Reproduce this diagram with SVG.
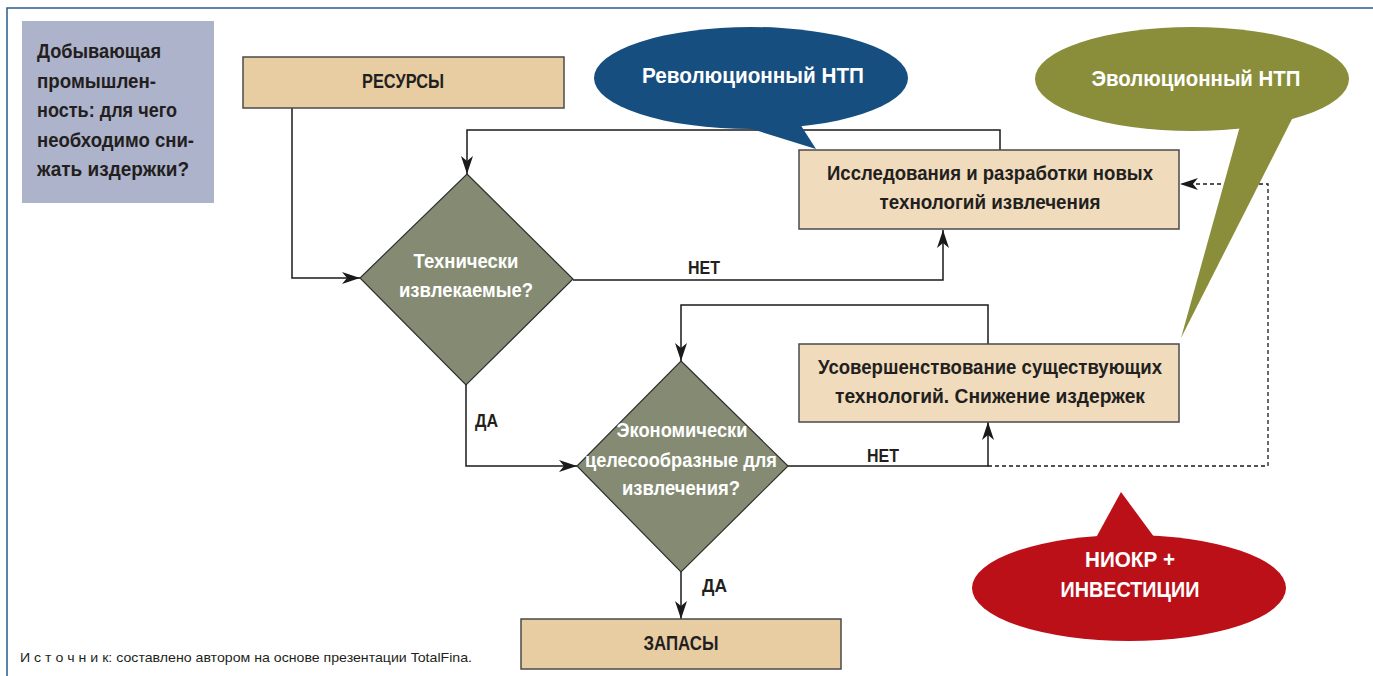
<svg xmlns="http://www.w3.org/2000/svg" width="1373" height="676" viewBox="0 0 1373 676">
<defs>
<marker id="ah" markerWidth="20" markerHeight="12" refX="18" refY="6" orient="auto" markerUnits="userSpaceOnUse">
<path d="M0,0 L18,6 L0,12 L5,6 z" fill="#1a1a1a"/>
</marker>
<style>
.t{font-family:"Liberation Sans Narrow","Liberation Sans","DejaVu Sans Condensed",sans-serif;font-weight:bold;}
.dk{fill:#231f20;}
.wh{fill:#ffffff;}
.box{stroke:#4a4a4a;stroke-width:1.5;}
.tan{fill:#e8cda3;}
.lt{fill:#f0dcbc;}
.dia{fill:#858b72;stroke:#2e2e2e;stroke-width:1.2;}
.ln{fill:none;stroke:#1a1a1a;stroke-width:1.5;marker-end:url(#ah);}
.dash{fill:none;stroke:#1a1a1a;stroke-width:1.3;stroke-dasharray:4 3;marker-end:url(#ah);}
</style>
</defs>
<rect x="0" y="0" width="1373" height="676" fill="#ffffff"/>
<path d="M7,676 V8 H1373" fill="none" stroke="#2a5b8f" stroke-width="1.5"/>

<g id="question">
<rect x="22" y="21" width="192" height="182" fill="#aeb3cc"/>
<text class="t dk" font-size="20"><tspan x="37" y="58" textLength="124" lengthAdjust="spacingAndGlyphs">Добывающая</tspan></text>
<text class="t dk" font-size="20"><tspan x="37" y="88" textLength="119" lengthAdjust="spacingAndGlyphs">промышлен-</tspan></text>
<text class="t dk" font-size="20"><tspan x="37" y="117" textLength="140" lengthAdjust="spacingAndGlyphs">ность: для чего</tspan></text>
<text class="t dk" font-size="20"><tspan x="37" y="147" textLength="157" lengthAdjust="spacingAndGlyphs">необходимо сни-</tspan></text>
<text class="t dk" font-size="20"><tspan x="37" y="176" textLength="152" lengthAdjust="spacingAndGlyphs">жать издержки?</tspan></text>
</g>

<g id="connectors">
<path class="ln" d="M292,108 V278 H360"/>
<path class="ln" d="M573,280 H943 V230"/>
<path class="ln" d="M1000,150 V130 H467 V174"/>
<path class="ln" d="M466,385 V466 H577"/>
<path class="ln" d="M788,466 H988 V422"/>
<path class="ln" d="M988,344 V305 H681 V361"/>
<path class="ln" d="M681,572 V619"/>
<path class="dash" d="M988,466 H1268 V184 H1180"/>
<text class="t dk" font-size="18" x="688" y="274" textLength="32" lengthAdjust="spacingAndGlyphs">НЕТ</text>
<text class="t dk" font-size="18" x="867" y="462" textLength="32" lengthAdjust="spacingAndGlyphs">НЕТ</text>
<text class="t dk" font-size="18" x="475" y="427" textLength="23" lengthAdjust="spacingAndGlyphs">ДА</text>
<text class="t dk" font-size="18" x="702" y="592" textLength="25" lengthAdjust="spacingAndGlyphs">ДА</text>
</g>

<g id="resources">
<rect class="box tan" x="243" y="57" width="321" height="51"/>
<text class="t dk" font-size="20.5" x="403" y="88" text-anchor="middle" textLength="82" lengthAdjust="spacingAndGlyphs">РЕСУРСЫ</text>
</g>

<g id="decision1">
<polygon class="dia" points="467,174 573,279 466,385 360,278"/>
<text class="t wh" font-size="20" x="466" y="268" text-anchor="middle" textLength="105" lengthAdjust="spacingAndGlyphs">Технически</text>
<text class="t wh" font-size="20" x="466" y="297" text-anchor="middle" textLength="134" lengthAdjust="spacingAndGlyphs">извлекаемые?</text>
</g>

<g id="research">
<rect class="box lt" x="799" y="150" width="380" height="79"/>
<text class="t dk" font-size="20" x="990" y="180" text-anchor="middle" textLength="326" lengthAdjust="spacingAndGlyphs">Исследования и разработки новых</text>
<text class="t dk" font-size="20" x="990" y="209" text-anchor="middle" textLength="221" lengthAdjust="spacingAndGlyphs">технологий извлечения</text>
</g>

<g id="decision2">
<polygon class="dia" points="681,361 788,466 681,572 577,466"/>
<text class="t wh" font-size="20" x="682" y="437" text-anchor="middle" textLength="131" lengthAdjust="spacingAndGlyphs">Экономически</text>
<text class="t wh" font-size="20" x="681" y="467" text-anchor="middle" textLength="192" lengthAdjust="spacingAndGlyphs">целесообразные для</text>
<text class="t wh" font-size="20" x="681" y="495" text-anchor="middle" textLength="118" lengthAdjust="spacingAndGlyphs">извлечения?</text>
</g>

<g id="improvement">
<rect class="box lt" x="799" y="344" width="380" height="78"/>
<text class="t dk" font-size="20" x="990" y="374" text-anchor="middle" textLength="344" lengthAdjust="spacingAndGlyphs">Усовершенствование существующих</text>
<text class="t dk" font-size="20" x="990" y="403" text-anchor="middle" textLength="310" lengthAdjust="spacingAndGlyphs">технологий. Снижение издержек</text>
</g>

<g id="reserves">
<rect class="box tan" x="521" y="619" width="320" height="50"/>
<text class="t dk" font-size="20.5" x="681" y="650" text-anchor="middle" textLength="75" lengthAdjust="spacingAndGlyphs">ЗАПАСЫ</text>
</g>

<g id="revolutionary">
<ellipse cx="751" cy="78" rx="157" ry="51" fill="#174e80"/>
<polygon points="742,126 816,149 800,124" fill="#174e80"/>
<text class="t wh" font-size="21.5" x="753" y="83" text-anchor="middle" textLength="222" lengthAdjust="spacingAndGlyphs">Революционный НТП</text>
</g>

<g id="evolutionary">
<ellipse cx="1192" cy="79" rx="157" ry="52" fill="#8a8e3a"/>
<polygon points="1240,126 1181,338 1293,117" fill="#8a8e3a"/>
<text class="t wh" font-size="21.5" x="1196" y="86" text-anchor="middle" textLength="209" lengthAdjust="spacingAndGlyphs">Эволюционный НТП</text>
</g>

<g id="rnd">
<ellipse cx="1129" cy="588" rx="157" ry="53" fill="#bc1019"/>
<polygon points="1092,545 1121,492 1160,545" fill="#bc1019"/>
<text class="t wh" font-size="21.5" x="1130" y="567" text-anchor="middle" textLength="90" lengthAdjust="spacingAndGlyphs">НИОКР +</text>
<text class="t wh" font-size="21.5" x="1130" y="597" text-anchor="middle" textLength="139" lengthAdjust="spacingAndGlyphs">ИНВЕСТИЦИИ</text>
</g>

<text font-family="'Liberation Sans Narrow','Liberation Sans',sans-serif" font-size="13" fill="#231f20" x="20" y="662" textLength="452" lengthAdjust="spacingAndGlyphs">И с т о ч н и к: составлено автором на основе презентации TotalFina.</text>
</svg>
